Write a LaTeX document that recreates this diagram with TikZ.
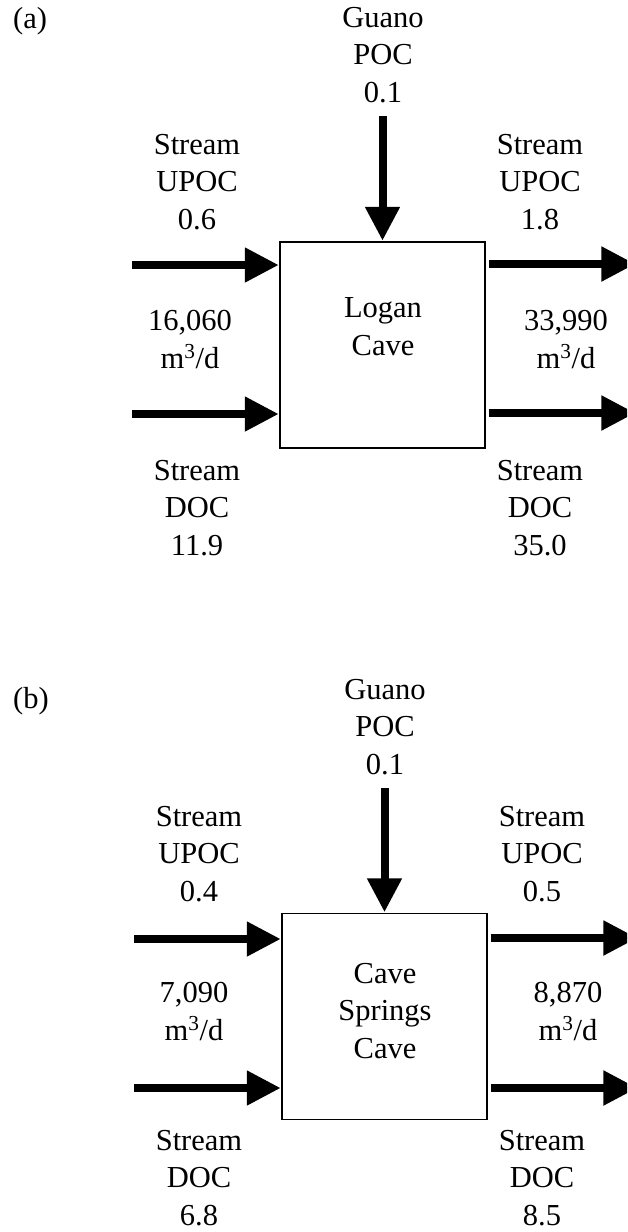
\documentclass[tikz,border=0pt]{standalone}
\usepackage{fontspec}
\setmainfont{Liberation Serif}
\usetikzlibrary{arrows.meta}

% labels are placed by the baseline of their last line
\tikzset{
  lbl/.style={align=center, inner sep=0pt, anchor=base,
              font=\fontsize{30.5}{37.5}\selectfont},
  cave/.style={draw, line width=1.3pt, minimum width=205pt, minimum height=206pt,
               inner sep=0pt},
  flow/.style={line width=8pt, -{Triangle[length=34pt,width=33pt]}, shorten >=0.6pt}
}

\begin{document}
\begin{tikzpicture}[x=1pt,y=-1pt]
\clip (0,0) rectangle (627,1232);
\fill[white] (0,0) rectangle (627,1232);

% ---------- (a) Logan Cave ----------
\node[lbl, anchor=base west] (tagA) at (13,28) {(a)};
\node[cave] (boxA) at (382.5,345) {};
\node[lbl] (nameA) at (383,355) {Logan\\Cave};

\node[lbl] (guanoA) at (383,102) {Guano\\POC\\0.1};
\node[lbl] (inUA)  at (197,229) {Stream\\UPOC\\0.6};
\node[lbl] (outUA) at (540,229) {Stream\\UPOC\\1.8};
\node[lbl] (inQA)  at (190,368) {16,060\\m\textsuperscript{3}/d};
\node[lbl] (outQA) at (566,368) {33,990\\m\textsuperscript{3}/d};
\node[lbl] (inDA)  at (197,555) {Stream\\DOC\\11.9};
\node[lbl] (outDA) at (540,555) {Stream\\DOC\\35.0};

\coordinate (topA) at (boxA.north |- 0,116);
\coordinate (srcUA) at (132,265);
\coordinate (srcDA) at (132,414);
\coordinate (sinkUA) at (636,264);
\coordinate (sinkDA) at (636,413);

\draw[flow] (topA) -- (boxA.north);
\draw[flow] (srcUA) -- (srcUA -| boxA.west);
\draw[flow] (srcDA) -- (srcDA -| boxA.west);
\draw[flow] (sinkUA -| boxA.east) ++(3,0) -- (sinkUA);
\draw[flow] (sinkDA -| boxA.east) ++(3,0) -- (sinkDA);

% ---------- (b) Cave Springs Cave ----------
\node[lbl, anchor=base west] (tagB) at (13,708) {(b)};
\node[cave] (boxB) at (384.5,1016.5) {};
\node[lbl] (nameB) at (385,1058) {Cave\\Springs\\Cave};

\node[lbl] (guanoB) at (385,774) {Guano\\POC\\0.1};
\node[lbl] (inUB)  at (199,901) {Stream\\UPOC\\0.4};
\node[lbl] (outUB) at (542,901) {Stream\\UPOC\\0.5};
\node[lbl] (inQB)  at (194,1040) {7,090\\m\textsuperscript{3}/d};
\node[lbl] (outQB) at (568,1040) {8,870\\m\textsuperscript{3}/d};
\node[lbl] (inDB)  at (199,1225) {Stream\\DOC\\6.8};
\node[lbl] (outDB) at (542,1225) {Stream\\DOC\\8.5};

\coordinate (topB) at (boxB.north |- 0,788);
\coordinate (srcUB) at (134,939);
\coordinate (srcDB) at (134,1088);
\coordinate (sinkUB) at (638,938);
\coordinate (sinkDB) at (638,1088);

\draw[flow] (topB) -- (boxB.north);
\draw[flow] (srcUB) -- (srcUB -| boxB.west);
\draw[flow] (srcDB) -- (srcDB -| boxB.west);
\draw[flow] (sinkUB -| boxB.east) ++(3,0) -- (sinkUB);
\draw[flow] (sinkDB -| boxB.east) ++(3,0) -- (sinkDB);
\end{tikzpicture}
\end{document}
